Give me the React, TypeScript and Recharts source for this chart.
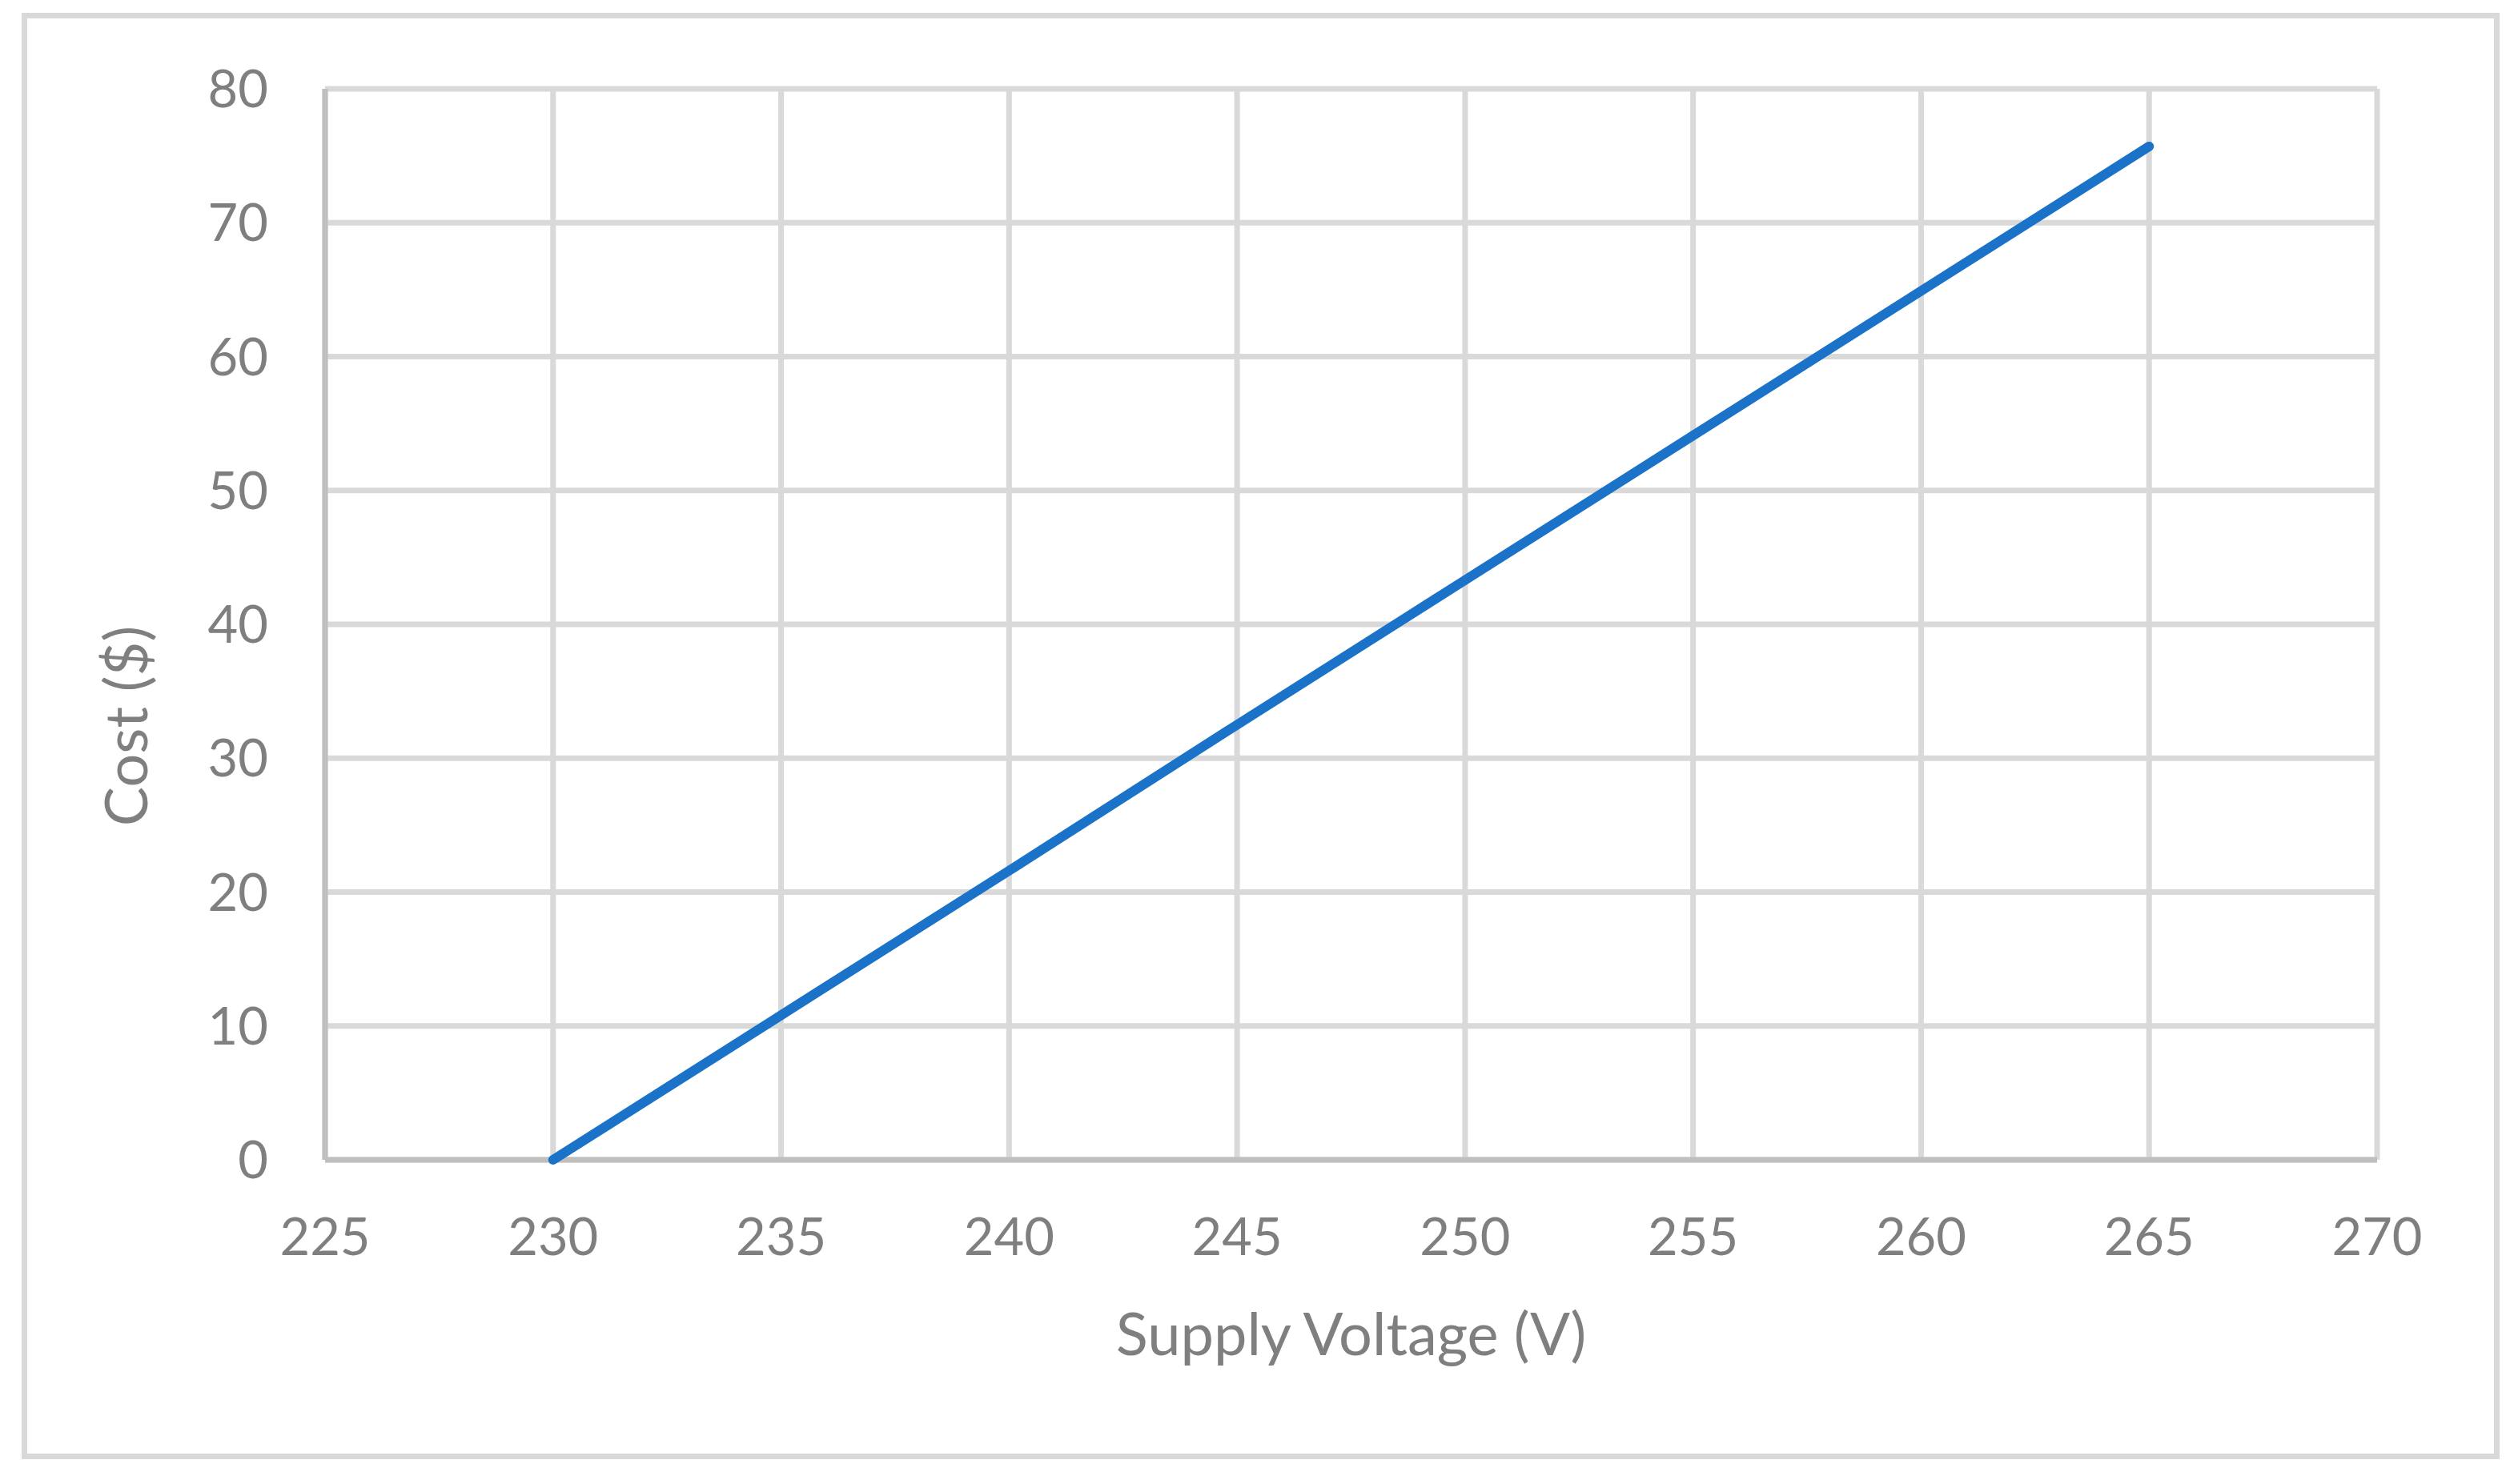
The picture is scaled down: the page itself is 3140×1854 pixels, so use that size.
import React from 'react';
import { LineChart, Line, XAxis, YAxis, CartesianGrid, ReferenceLine } from 'recharts';

// values
const voltage = [230, 235, 240, 245, 250, 255, 260, 265];
const cost = [0, 10.8, 21.6, 32.5, 43.3, 54.1, 64.9, 75.7];
const xTicks = [225, 230, 235, 240, 245, 250, 255, 260, 265, 270];
const yTicks = [0, 10, 20, 30, 40, 50, 60, 70, 80];

const data = voltage.map((v, i) => ({ v, cost: cost[i] }));

const FONT = 'Lato, "Open Sans", sans-serif';
const TEXT = '#7f7f7f';

const App: React.FC = () => {
  return (
    <div style={{ position: 'absolute', left: 0, top: 0, width: 3140, height: 1854, background: '#fff' }}>
      <div
        style={{
          position: 'absolute', left: 27, top: 16, width: 3095, height: 1807,
          border: '7px solid #d9d9d9', boxSizing: 'border-box'
        }}
      />
      <LineChart
        width={3140}
        height={1854}
        data={data}
        margin={{ top: 111, right: 171, left: 306, bottom: 305 }}
        style={{ position: 'absolute', left: 0, top: 0 }}
      >
        <CartesianGrid stroke="#d9d9d9" strokeWidth={7} />
        <XAxis
          dataKey="v"
          type="number"
          domain={[225, 270]}
          ticks={xTicks}
          height={100}
          tickLine={false}
          tickSize={0}
          tickMargin={73}
          axisLine={false}
          tick={{ fill: TEXT, fontSize: 65, fontFamily: FONT }}
          label={{
            content: ({ viewBox }: any) => (
              <text
                x={viewBox.x + viewBox.width / 2}
                y={viewBox.y + 244}
                textAnchor="middle"
                fill={TEXT}
                fontSize={74}
                fontFamily={FONT}
              >
                Supply Voltage (V)
              </text>
            )
          }}
        />
        <YAxis
          type="number"
          domain={[0, 80]}
          ticks={yTicks}
          width={100}
          tickLine={false}
          tickSize={0}
          tickMargin={71}
          axisLine={{ stroke: '#bfbfbf', strokeWidth: 7 }}
          tick={{ fill: TEXT, fontSize: 65, fontFamily: FONT }}
          label={{
            content: ({ viewBox }: any) => {
              const cx = viewBox.x - 151;
              const cy = viewBox.y + viewBox.height / 2 + 127;
              return (
                <text
                  x={cx}
                  y={cy}
                  transform={`rotate(-90 ${cx} ${cy})`}
                  textAnchor="middle"
                  dominantBaseline="central"
                  fill={TEXT}
                  fontSize={74}
                  fontFamily={FONT}
                >
                  Cost ($)
                </text>
              );
            }
          }}
        />
        {/* horizontal axis line drawn as a reference line so the series sits on top */}
        <ReferenceLine y={0} stroke="#bfbfbf" strokeWidth={7} />
        <Line
          type="linear"
          dataKey="cost"
          stroke="#1a73c8"
          strokeWidth={12}
          strokeLinecap="round"
          dot={false}
          activeDot={false}
          isAnimationActive={false}
        />
      </LineChart>
    </div>
  );
};

export default App;
